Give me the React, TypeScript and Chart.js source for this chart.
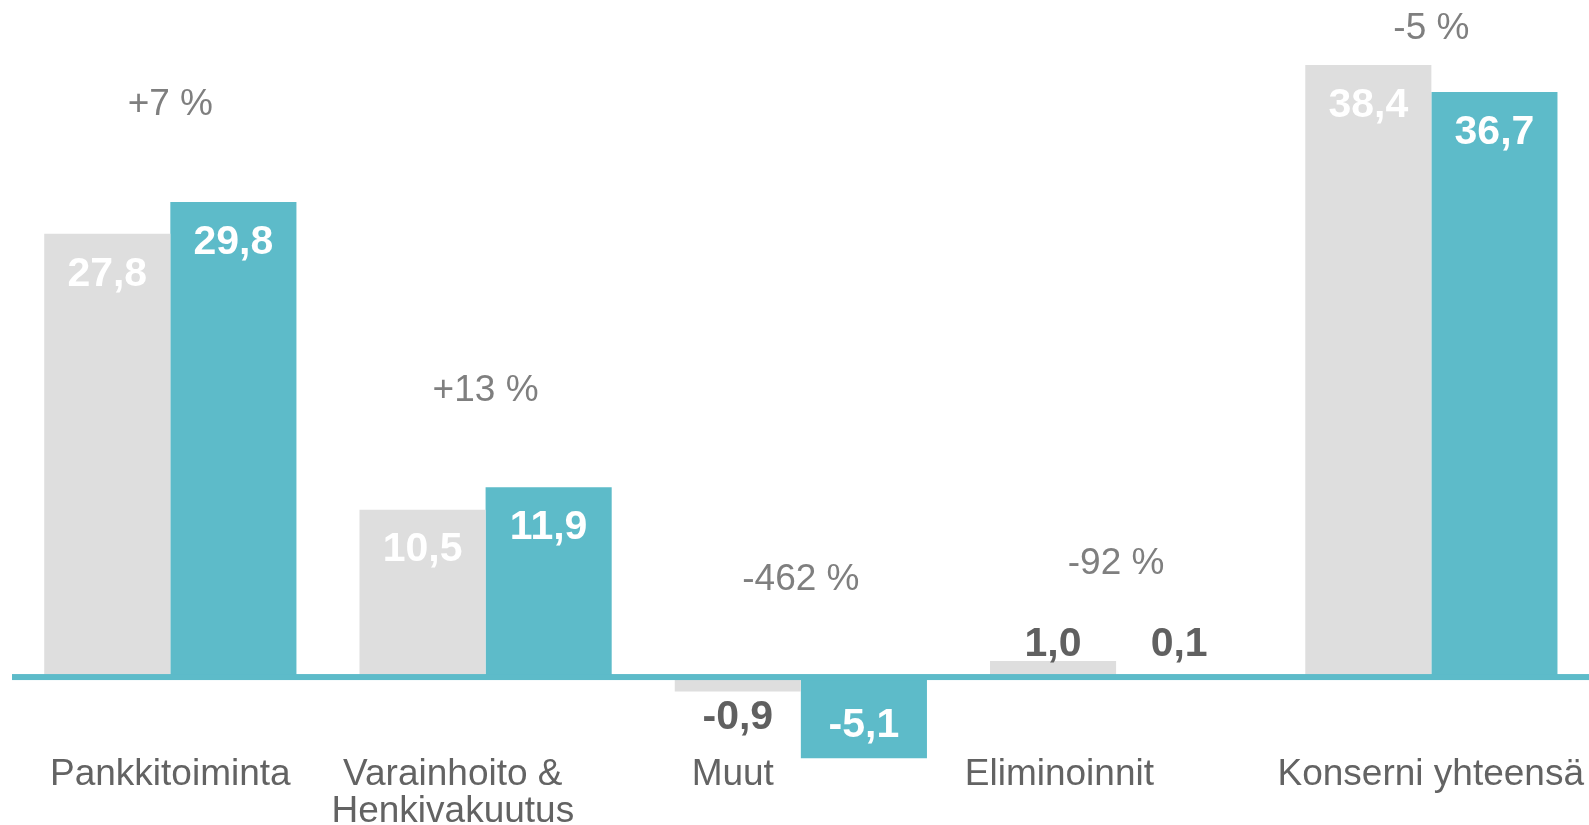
import React, { useEffect, useRef } from "react";
import { Chart, registerables } from "chart.js";

Chart.register(...registerables);

const categories: string[][] = [
  ["Pankkitoiminta"],
  ["Varainhoito &", "Henkivakuutus"],
  ["Muut"],
  ["Eliminoinnit"],
  ["Konserni yhteensä"],
];
const previousValues = [27.8, 10.5, -0.9, 1.0, 38.4];
const currentValues = [29.8, 11.9, -5.1, 0.1, 36.7];
const changeLabels = ["+7 %", "+13 %", "-462 %", "-92 %", "-5 %"];

// label horizontal shift relative to group centre, in bar widths (style only)
const categoryLabelShift = [0, -0.26, -0.54, -0.45, 0];

const GREY = "#DEDEDE";
const TEAL = "#5DBBC9";
const DARK = "#606060";
const CAT_COLOR = "#636363";
const PCT_COLOR = "#7F7F7F";
const FONT = '"Liberation Sans", Arial, sans-serif';

const fmt = (v: number) => v.toFixed(1).replace(".", ",");

const labelPlugin = {
  id: "customLabels",
  afterDatasetsDraw(chart: any) {
    const ctx = chart.ctx as CanvasRenderingContext2D;
    const yScale = chart.scales.y;
    const zero = yScale.getPixelForValue(0);
    ctx.save();
    // zero line
    ctx.fillStyle = TEAL;
    ctx.fillRect(12, zero - 3, chart.width - 12, 6);

    // value labels
    ctx.textAlign = "center";
    ctx.textBaseline = "middle";
    ctx.font = `bold 41px ${FONT}`;
    chart.data.datasets.forEach((ds: any, di: number) => {
      const meta = chart.getDatasetMeta(di);
      meta.data.forEach((bar: any, i: number) => {
        const v = ds.data[i] as number;
        const h = Math.abs(bar.y - zero);
        let y: number;
        if (h > 60) {
          ctx.fillStyle = "#FFFFFF";
          y = v >= 0 ? bar.y + 40.5 : bar.y - 33;
        } else {
          ctx.fillStyle = DARK;
          y = v >= 0 ? Math.min(bar.y - 16, zero - 32) : bar.y + 26.5;
        }
        ctx.fillText(fmt(v), bar.x, y);
      });
    });

    // percent change labels + category labels
    const m0 = chart.getDatasetMeta(0);
    const m1 = chart.getDatasetMeta(1);
    for (let i = 0; i < categories.length; i++) {
      const b0 = m0.data[i];
      const b1 = m1.data[i];
      const cx = (b0.x + b1.x) / 2;
      const barW = Math.abs(b1.x - b0.x);
      const top = Math.min(b0.y, b1.y, zero);
      ctx.font = `37px ${FONT}`;
      ctx.fillStyle = PCT_COLOR;
      ctx.fillText(changeLabels[i], cx, Math.max(top - 97, 29));

      ctx.font = `37px ${FONT}`;
      ctx.fillStyle = CAT_COLOR;
      const lx = cx + categoryLabelShift[i] * barW;
      categories[i].forEach((line, li) => {
        const w = ctx.measureText(line).width;
        let x = lx;
        if (x - w / 2 < 47) x = 47 + w / 2;
        if (x + w / 2 > chart.width - 5) x = chart.width - 5 - w / 2;
        ctx.fillText(line, x, 775 + li * 37);
      });
    }
    ctx.restore();
  },
};

export default function App() {
  const ref = useRef<HTMLCanvasElement>(null);
  useEffect(() => {
    if (!ref.current) return;
    const chart = new Chart(ref.current, {
      type: "bar",
      data: {
        labels: categories.map((c) => c.join(" ")),
        datasets: [
          {
            data: previousValues,
            backgroundColor: GREY,
            categoryPercentage: 0.8,
            barPercentage: 1.0,
          },
          {
            data: currentValues,
            backgroundColor: TEAL,
            categoryPercentage: 0.8,
            barPercentage: 1.0,
          },
        ],
      },
      options: {
        responsive: false,
        animation: false,
        devicePixelRatio: 1,
        layout: { padding: { left: 12.7, right: 0, top: 0, bottom: 0 } },
        plugins: {
          legend: { display: false },
          tooltip: { enabled: false },
        },
        scales: {
          x: { display: false },
          y: { display: false, min: -9.28, max: 42.47 },
        },
      },
      plugins: [labelPlugin],
    });
    return () => chart.destroy();
  }, []);
  return (
    <div style={{ position: "fixed", left: 0, top: 0, width: 1589, height: 825, background: "#fff" }}>
      <canvas ref={ref} width={1589} height={825} style={{ display: "block" }} />
    </div>
  );
}
